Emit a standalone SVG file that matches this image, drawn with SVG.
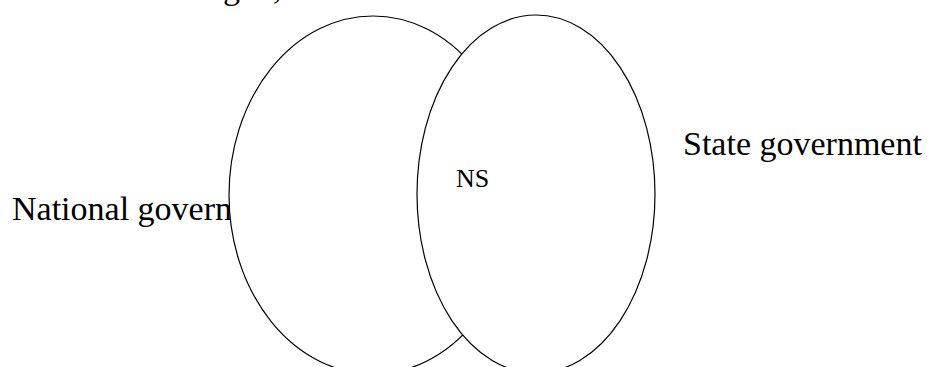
<svg xmlns="http://www.w3.org/2000/svg" width="928" height="367" viewBox="0 0 928 367">
<style>
  text { font-family: "Liberation Serif", "Times New Roman", serif; fill: #000; }
  .big { font-size: 34px; }
  .small { font-size: 26px; }
  .set { fill: #fff; stroke: #000; stroke-width: 1.2; }
</style>
<rect width="928" height="367" fill="#fff"/>
<g id="top-label"><text class="big" x="223" y="-1">ge<tspan dx="18">,</tspan></text></g>
<g id="national-label"><text class="big" x="12" y="219.5">National govern</text></g>
<g id="national"><ellipse class="set" cx="373" cy="195" rx="144" ry="179"/></g>
<g id="state"><ellipse class="set" cx="536" cy="194" rx="119" ry="179"/></g>
<g id="overlap"><text class="small" x="456" y="187">NS</text></g>
<g id="state-label"><text class="big" x="683" y="155">State government</text></g>
<g id="connectors"></g>
</svg>
